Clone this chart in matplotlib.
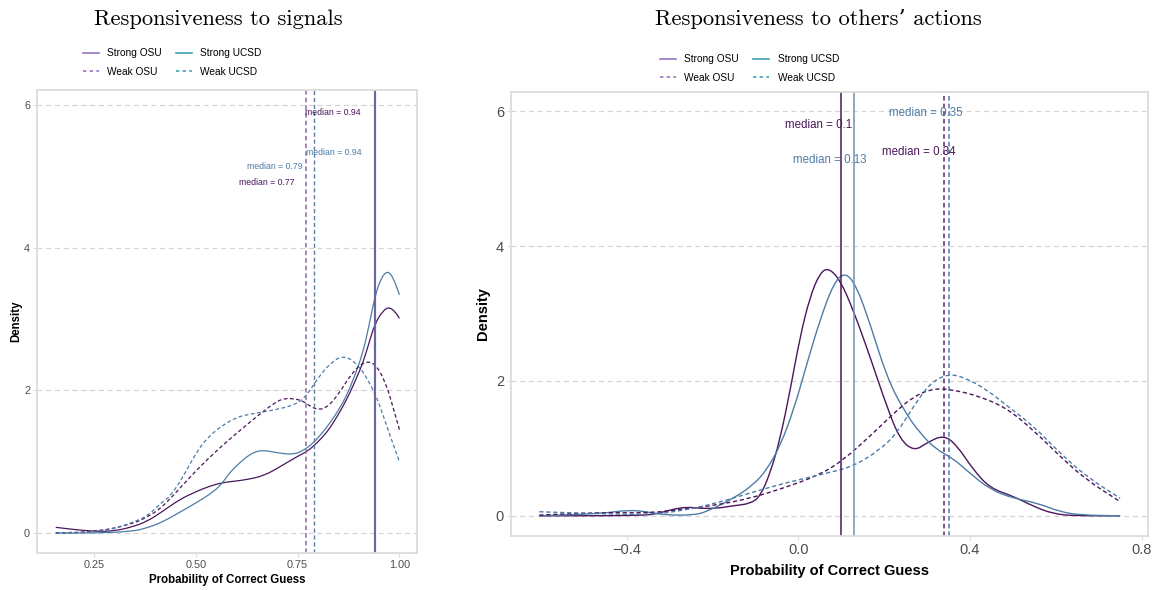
import matplotlib
matplotlib.use("Agg")
import matplotlib.pyplot as plt
from matplotlib.lines import Line2D
from matplotlib.path import Path
from matplotlib.patches import PathPatch

# ---------------- data ----------------
# Left panel: Responsiveness to signals
sig_strong_osu_x = [0.156, 0.20, 0.258, 0.30, 0.34, 0.38, 0.42, 0.46, 0.50, 0.535, 0.568, 0.60, 0.625, 0.666,
                    0.707, 0.748, 0.775, 0.797, 0.82, 0.837, 0.86, 0.878, 0.895, 0.91, 0.925, 0.94, 0.96, 0.975, 0.99, 1.0]
sig_strong_osu_y = [0.08, 0.05, 0.02, 0.03, 0.08, 0.16, 0.31, 0.47, 0.58, 0.66, 0.71, 0.73, 0.75, 0.80,
                    0.93, 1.07, 1.15, 1.26, 1.40, 1.54, 1.76, 1.96, 2.18, 2.38, 2.66, 2.94, 3.12, 3.17, 3.10, 3.01]
sig_strong_ucsd_x = [0.156, 0.25, 0.34, 0.38, 0.42, 0.46, 0.50, 0.544, 0.565, 0.585, 0.605, 0.625, 0.645, 0.666,
                     0.687, 0.707, 0.74, 0.765, 0.788, 0.81, 0.829, 0.85, 0.87, 0.89, 0.91, 0.925, 0.94, 0.955, 0.971, 0.985, 1.0]
sig_strong_ucsd_y = [0.0, 0.0, 0.02, 0.07, 0.16, 0.29, 0.42, 0.58, 0.70, 0.86, 0.97, 1.07, 1.14, 1.16,
                     1.14, 1.12, 1.10, 1.16, 1.26, 1.40, 1.54, 1.72, 1.92, 2.20, 2.52, 2.90, 3.32, 3.58, 3.68, 3.58, 3.34]
sig_weak_osu_x = [0.156, 0.258, 0.34, 0.38, 0.42, 0.486, 0.544, 0.60, 0.666, 0.70, 0.72, 0.745, 0.764, 0.785,
                  0.804, 0.82, 0.837, 0.86, 0.878, 0.91, 0.94, 0.967, 0.985, 1.0]
sig_weak_osu_y = [0.0, 0.02, 0.12, 0.22, 0.37, 0.79, 1.12, 1.40, 1.71, 1.85, 1.89, 1.88, 1.85, 1.76,
                  1.73, 1.76, 1.85, 2.03, 2.20, 2.40, 2.39, 2.10, 1.75, 1.45]
sig_weak_ucsd_x = [0.156, 0.25, 0.30, 0.34, 0.38, 0.42, 0.437, 0.47, 0.50, 0.53, 0.568, 0.60, 0.625, 0.68,
                   0.748, 0.775, 0.797, 0.829, 0.865, 0.902, 0.925, 0.943, 0.96, 0.975, 1.0]
sig_weak_ucsd_y = [0.0, 0.01, 0.06, 0.14, 0.23, 0.45, 0.51, 0.80, 1.12, 1.35, 1.52, 1.62, 1.66, 1.71,
                   1.80, 1.95, 2.15, 2.38, 2.50, 2.34, 2.12, 1.92, 1.65, 1.40, 1.00]
sig_medians = {"Strong OSU": 0.94, "Strong UCSD": 0.94, "Weak OSU": 0.77, "Weak UCSD": 0.79}

# Right panel: Responsiveness to others' actions
act_strong_osu_x = [-0.604, -0.45, -0.353, -0.33, -0.291, -0.26, -0.229, -0.19, -0.151, -0.112, -0.089, -0.066,
                    -0.043, -0.019, 0.004, 0.027, 0.05, 0.07, 0.097, 0.128, 0.167, 0.206, 0.237, 0.27, 0.299,
                    0.338, 0.369, 0.408, 0.447, 0.501, 0.548, 0.594, 0.641, 0.75]
act_strong_osu_y = [0.0, 0.0, 0.01, 0.03, 0.10, 0.13, 0.11, 0.11, 0.15, 0.18, 0.29, 0.63,
                    1.13, 1.87, 2.66, 3.25, 3.60, 3.68, 3.50, 3.05, 2.36, 1.62, 1.13, 0.96, 1.08,
                    1.20, 1.05, 0.68, 0.41, 0.29, 0.14, 0.03, 0.0, 0.0]
act_strong_ucsd_x = [-0.604, -0.463, -0.393, -0.346, -0.307, -0.245, -0.214, -0.151, -0.105, -0.074, -0.043,
                     -0.011, 0.019, 0.05, 0.082, 0.109, 0.136, 0.167, 0.206, 0.245, 0.284, 0.322, 0.361, 0.40,
                     0.447, 0.501, 0.556, 0.61, 0.657, 0.75]
act_strong_ucsd_y = [0.0, 0.03, 0.09, 0.05, 0.01, 0.01, 0.06, 0.26, 0.46, 0.68, 1.03,
                     1.57, 2.24, 2.90, 3.45, 3.62, 3.40, 2.85, 2.06, 1.57, 1.22, 0.98, 0.85, 0.63,
                     0.39, 0.26, 0.19, 0.06, 0.01, 0.0]
act_weak_osu_x = [-0.604, -0.463, -0.346, -0.267, -0.19, -0.112, -0.035, 0.051, 0.105, 0.167, 0.222, 0.268,
                  0.315, 0.361, 0.423, 0.485, 0.548, 0.61, 0.672, 0.75]
act_weak_osu_y = [0.01, 0.05, 0.04, 0.10, 0.16, 0.26, 0.41, 0.61, 0.83, 1.18, 1.52, 1.77,
                  1.89, 1.87, 1.77, 1.60, 1.27, 0.88, 0.53, 0.21]
act_weak_ucsd_x = [-0.604, -0.463, -0.346, -0.267, -0.19, -0.112, -0.035, 0.051, 0.128, 0.19, 0.229, 0.268,
                   0.307, 0.35, 0.392, 0.439, 0.493, 0.548, 0.61, 0.672, 0.75]
act_weak_ucsd_y = [0.06, 0.03, 0.015, 0.08, 0.19, 0.34, 0.48, 0.61, 0.73, 0.98, 1.22, 1.62,
                   1.97, 2.11, 2.04, 1.87, 1.60, 1.33, 0.93, 0.58, 0.26]
act_medians = {"Strong OSU": 0.1, "Strong UCSD": 0.13, "Weak OSU": 0.34, "Weak UCSD": 0.35}

titles = ["Responsiveness to signals", "Responsiveness to others\u2019 actions"]
xlabel = "Probability of Correct Guess"
ylabel = "Density"
legend_labels = ["Strong OSU", "Weak OSU", "Strong UCSD", "Weak UCSD"]

# ---------------- style ----------------
OSU = "#4a165c"
UCSD = "#4d7ca6"
OSU_LEG = "#9a74c4"
UCSD_LEG = "#3fa2b6"
GRID = "#d4d4d4"
FRAME = "#dcdcdc"
TICKC = "#4d4d4d"
SANS = ["Liberation Sans", "DejaVu Sans"]

plt.rcParams["font.family"] = SANS

fig = plt.figure(figsize=(11.57, 5.90), dpi=100)
axL = fig.add_axes([0.032, 0.0627, 0.328, 0.7845])
axR = fig.add_axes([0.4417, 0.0915, 0.5505, 0.753])


def smooth_curve(ax, xs, ys, **kw):
    """Draw a smooth path through the read points (quadratic Beziers via midpoints)."""
    pts = list(zip(xs, ys))
    verts = [pts[0]]
    codes = [Path.MOVETO]
    if len(pts) > 2:
        m = ((pts[0][0] + pts[1][0]) / 2, (pts[0][1] + pts[1][1]) / 2)
        verts.append(m)
        codes.append(Path.LINETO)
        for i in range(1, len(pts) - 1):
            m = ((pts[i][0] + pts[i + 1][0]) / 2, (pts[i][1] + pts[i + 1][1]) / 2)
            verts += [pts[i], m]
            codes += [Path.CURVE3, Path.CURVE3]
    verts.append(pts[-1])
    codes.append(Path.LINETO)
    ax.add_patch(PathPatch(Path(verts, codes), fill=False, capstyle="butt", joinstyle="round", **kw))


def style_axes(ax, fs_tick):
    for s in ax.spines.values():
        s.set_color(FRAME)
        s.set_linewidth(1.3)
    ax.set_yticks([0, 2, 4, 6])
    ax.yaxis.grid(True, color=GRID, linestyle=(0, (4, 3)), linewidth=0.9)
    ax.xaxis.grid(False)
    ax.set_axisbelow(True)
    ax.tick_params(axis="both", colors=FRAME, labelcolor=TICKC, labelsize=fs_tick, length=3, width=0.8, pad=2)


DASH = (0, (3, 2))

# ---- left panel ----
ax = axL
style_axes(ax, 7.8)
smooth_curve(ax, sig_strong_osu_x, sig_strong_osu_y, edgecolor=OSU, lw=0.9)
smooth_curve(ax, sig_strong_ucsd_x, sig_strong_ucsd_y, edgecolor=UCSD, lw=0.9)
smooth_curve(ax, sig_weak_osu_x, sig_weak_osu_y, edgecolor=OSU, lw=0.9, linestyle=DASH)
smooth_curve(ax, sig_weak_ucsd_x, sig_weak_ucsd_y, edgecolor=UCSD, lw=0.9, linestyle=DASH)
ax.axvline(sig_medians["Weak OSU"], color="#8a6aa0", lw=1.1, linestyle=DASH)
ax.axvline(sig_medians["Weak UCSD"], color="#5b7ea3", lw=1.0, linestyle=DASH)
ax.axvline(sig_medians["Strong UCSD"], color=UCSD, lw=1.6, alpha=0.8)
ax.axvline(sig_medians["Strong OSU"], color="#6e5a9e", lw=1.4, alpha=0.85)
ax.set_xlim(0.110, 1.042)
ax.set_ylim(-0.28, 6.21)
ax.set_xticks([0.25, 0.50, 0.75, 1.00])
ax.set_xticklabels(["0.25", "0.50", "0.75", "1.00"])
ax.set_xlabel(xlabel, fontsize=8.3, fontweight="bold", labelpad=3)
ax.set_ylabel(ylabel, fontsize=8.3, fontweight="bold", labelpad=1)
fsm = 6.3
ax.text(0.768, 5.90, f"median = {sig_medians['Strong OSU']}", color=OSU, fontsize=fsm, ha="left", va="center")
ax.text(0.770, 5.34, f"median = {sig_medians['Strong UCSD']}", color=UCSD, fontsize=fsm, ha="left", va="center")
ax.text(0.763, 5.14, f"median = {sig_medians['Weak UCSD']}", color=UCSD, fontsize=fsm, ha="right", va="center")
ax.text(0.743, 4.91, f"median = {sig_medians['Weak OSU']}", color=OSU, fontsize=fsm, ha="right", va="center")

# ---- right panel ----
ax = axR
style_axes(ax, 10.5)
smooth_curve(ax, act_strong_osu_x, act_strong_osu_y, edgecolor=OSU, lw=1.0)
smooth_curve(ax, act_strong_ucsd_x, act_strong_ucsd_y, edgecolor=UCSD, lw=1.0)
smooth_curve(ax, act_weak_osu_x, act_weak_osu_y, edgecolor=OSU, lw=1.0, linestyle=DASH)
smooth_curve(ax, act_weak_ucsd_x, act_weak_ucsd_y, edgecolor=UCSD, lw=1.0, linestyle=DASH)
ax.axvline(act_medians["Strong OSU"], color=OSU, lw=1.1)
ax.axvline(act_medians["Strong UCSD"], color="#7193b4", lw=1.1)
ax.axvline(act_medians["Weak OSU"], color="#5a2a70", lw=1.1, linestyle=DASH)
ax.axvline(act_medians["Weak UCSD"], color=UCSD, lw=1.1, linestyle=DASH)
ax.set_xlim(-0.670, 0.815)
ax.set_ylim(-0.30, 6.29)
ax.set_xticks([-0.4, 0.0, 0.4, 0.8])
ax.set_xticklabels(["\u22120.4", "0.0", "0.4", "0.8"])
ax.set_xlabel(xlabel, fontsize=10.5, fontweight="bold", labelpad=5)
ax.set_ylabel(ylabel, fontsize=10.5, fontweight="bold", labelpad=4)
fsr = 8.3
ax.text(0.048, 5.79, f"median = {act_medians['Strong OSU']}", color=OSU, fontsize=fsr, ha="center", va="center")
ax.text(0.073, 5.28, f"median = {act_medians['Strong UCSD']}", color=UCSD, fontsize=fsr, ha="center", va="center")
ax.text(0.298, 5.98, f"median = {act_medians['Weak UCSD']}", color=UCSD, fontsize=fsr, ha="center", va="center")
ax.text(0.281, 5.39, f"median = {act_medians['Weak OSU']}", color=OSU, fontsize=fsr, ha="center", va="center")

# ---- titles ----
title_font = ["cmr10", "DejaVu Serif"]
fig.text(0.189, 0.967, titles[0], family=title_font, fontsize=16.2, ha="center", va="center")
fig.text(0.707, 0.967, titles[1], family=title_font, fontsize=16.2, ha="center", va="center")

# ---- legends ----
def make_handles():
    return [Line2D([], [], color=OSU_LEG, lw=1.2),
            Line2D([], [], color=OSU_LEG, lw=1.2, linestyle=(0, (2, 2))),
            Line2D([], [], color=UCSD_LEG, lw=1.2),
            Line2D([], [], color=UCSD_LEG, lw=1.2, linestyle=(0, (2, 2)))]

fig.legend(make_handles(), legend_labels, ncol=2, frameon=False, fontsize=7.3,
           loc="upper left", bbox_to_anchor=(0.068, 0.925), handlelength=1.6,
           handletextpad=0.8, columnspacing=1.4, labelspacing=0.85, borderaxespad=0)
fig.legend(make_handles(), legend_labels, ncol=2, frameon=False, fontsize=7.3,
           loc="upper left", bbox_to_anchor=(0.567, 0.915), handlelength=1.6,
           handletextpad=0.8, columnspacing=1.4, labelspacing=0.85, borderaxespad=0)

fig.savefig("out.png", dpi=100)
